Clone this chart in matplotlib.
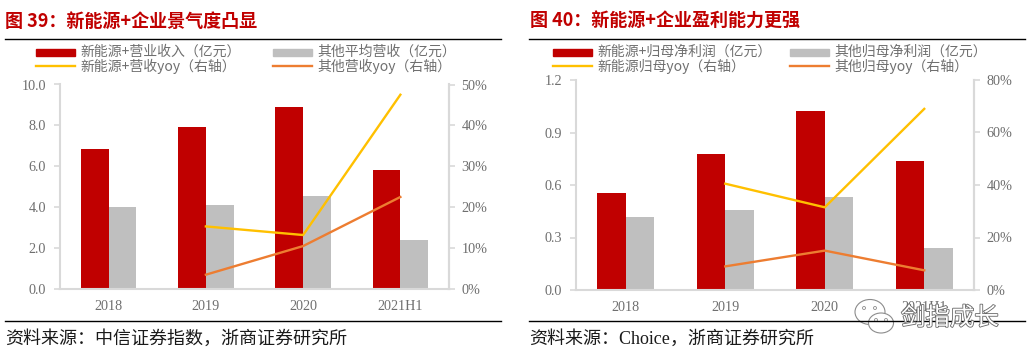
import numpy as np
import matplotlib.pyplot as plt
import matplotlib.patheffects as pe
from matplotlib.lines import Line2D
from matplotlib.patches import Rectangle, Ellipse

plt.rcParams['font.family'] = ['Liberation Serif', 'Noto Sans CJK SC', 'DejaVu Sans']

W, H = 1034, 363

years = ['2018', '2019', '2020', '2021H1']
# left chart
rev_new = [6.85, 7.9, 8.9, 5.8]
rev_other = [4.0, 4.1, 4.55, 2.4]
rev_new_yoy = [15.3, 13.2, 47.5]
rev_other_yoy = [3.5, 10.5, 22.5]
# right chart
profit_new = [0.555, 0.78, 1.025, 0.74]
profit_other = [0.42, 0.46, 0.53, 0.24]
profit_new_yoy = [40.5, 31.5, 69]
profit_other_yoy = [9, 15, 7.5]

RED = '#c00000'
GRAY = '#bfbfbf'
YELLOW = '#ffc000'
ORANGE = '#ed7d31'
TXT = '#6f6f6f'
CJK = ['Noto Sans CJK SC', 'DejaVu Sans']
SERIF_CJK = ['Liberation Serif', 'Noto Sans CJK SC', 'DejaVu Sans']

fig = plt.figure(figsize=(W / 100, H / 100), dpi=100)


def fx(x):
    return x / W


def fy(y):
    return 1 - y / H


def hline(x0, x1, y, color='black', lw=1.0):
    fig.add_artist(Line2D([fx(x0), fx(x1)], [fy(y), fy(y)], color=color, lw=lw,
                          transform=fig.transFigure))


def panel(box, bars1, bars2, line1, line2, yticks, yfmt, rticks, labels, x_off):
    x0, x1, top, bottom = box
    ax = fig.add_axes([fx(x0), fy(bottom), fx(x1 - x0), (bottom - top) / H])
    pos = np.arange(len(years))
    width = 0.285
    ax.bar(pos - width / 2, bars1, width, color=RED)
    ax.bar(pos + width / 2, bars2, width, color=GRAY)
    ax.set_xlim(-0.5, 3.5)
    ax.set_ylim(yticks[0], yticks[-1])
    ax.set_yticks(yticks)
    ax.set_yticklabels([yfmt % t for t in yticks], fontsize=10.2, color=TXT)
    ax.set_xticks(pos)
    ax.set_xticklabels(years, fontsize=10.2, color=TXT)
    ax.tick_params(axis='x', length=0, pad=8)
    ax.tick_params(axis='y', length=4, width=1.2, color='#d9d9d9', direction='out', pad=6)
    ax.spines['top'].set_visible(False)
    for s in ['left', 'bottom', 'right']:
        ax.spines[s].set_color('#d9d9d9')
        ax.spines[s].set_linewidth(1.5)

    ax2 = ax.twinx()
    ax2.plot(pos[1:], line1, color=YELLOW, lw=1.7)
    ax2.plot(pos[1:], line2, color=ORANGE, lw=1.7)
    ax2.set_ylim(rticks[0], rticks[-1])
    ax2.set_yticks(rticks)
    ax2.set_yticklabels(['%d%%' % t for t in rticks], fontsize=10.2, color=TXT)
    ax2.tick_params(axis='y', length=4, width=1.2, color='#d9d9d9', direction='out', pad=5)
    for s in ['top', 'left', 'bottom']:
        ax2.spines[s].set_visible(False)
    ax2.spines['right'].set_color('#d9d9d9')
    ax2.spines['right'].set_linewidth(1.5)

    # legend by hand, two columns laid out like the original
    for i, (lab, col, kind) in enumerate(zip(labels, [RED, GRAY, YELLOW, ORANGE],
                                             ['bar', 'bar', 'line', 'line'])):
        lx = x_off + (0 if i % 2 == 0 else 237)
        ly = 52 if i < 2 else 66
        if kind == 'bar':
            fig.add_artist(Rectangle((fx(lx), fy(ly + 3.5)), 39 / W, 7 / H, color=col,
                                     transform=fig.transFigure))
        else:
            hline(lx, lx + 39, ly - 0.5, color=col, lw=1.7)
        fig.text(fx(lx + 44), fy(ly), lab, fontsize=10, color=TXT, family=CJK, va='center')


panel((60, 449, 84.5, 289), rev_new, rev_other, rev_new_yoy, rev_other_yoy,
      [0, 2, 4, 6, 8, 10], '%.1f', [0, 10, 20, 30, 40, 50],
      ['新能源+营业收入（亿元）', '其他平均营收（亿元）', '新能源+营收yoy（右轴）', '其他营收yoy（右轴）'], 36)
panel((576, 974, 80, 290), profit_new, profit_other, profit_new_yoy, profit_other_yoy,
      [0, 0.3, 0.6, 0.9, 1.2], '%.1f', [0, 20, 40, 60, 80],
      ['新能源+归母净利润（亿元）', '其他归母净利润（亿元）', '新能源归母yoy（右轴）', '其他归母yoy（右轴）'], 553)

# titles and rules
fig.text(fx(5), fy(21.5), '图 39：新能源+企业景气度凸显', fontsize=13, color=RED, weight='bold',
         family=CJK, va='center')
fig.text(fx(530), fy(21.5), '图 40：新能源+企业盈利能力更强', fontsize=13, color=RED, weight='bold',
         family=CJK, va='center')
hline(5, 501, 38.5)
hline(529, 1025, 38.5)
hline(5, 501, 321)
hline(529, 1025, 321)
fig.text(fx(5), fy(339), '资料来源：中信证券指数，浙商证券研究所', fontsize=13, color='#1a1a1a',
         family=SERIF_CJK, va='center')
fig.text(fx(529), fy(339), '资料来源：Choice，浙商证券研究所', fontsize=13, color='#1a1a1a',
         family=SERIF_CJK, va='center')

# watermark, wechat bubbles and name
for (cx, cy, w, h) in [(870, 312, 30, 25), (881, 323, 25, 20)]:
    fig.add_artist(Ellipse((fx(cx), fy(cy)), w / W, h / H, facecolor='white',
                           edgecolor='#8c8c8c', lw=0.8, transform=fig.transFigure))
for (cx, cy) in [(864, 308), (875, 308), (876, 320), (886, 320)]:
    fig.add_artist(Ellipse((fx(cx), fy(cy)), 3 / W, 3 / H, facecolor='white',
                           edgecolor='#8c8c8c', lw=0.6, transform=fig.transFigure))
fig.text(fx(901), fy(318), '剑指成长', fontsize=17.6, color='white', family=CJK, va='center',
         path_effects=[pe.withStroke(linewidth=1.2, foreground='#666666')])

fig.savefig('out.png', dpi=100)
